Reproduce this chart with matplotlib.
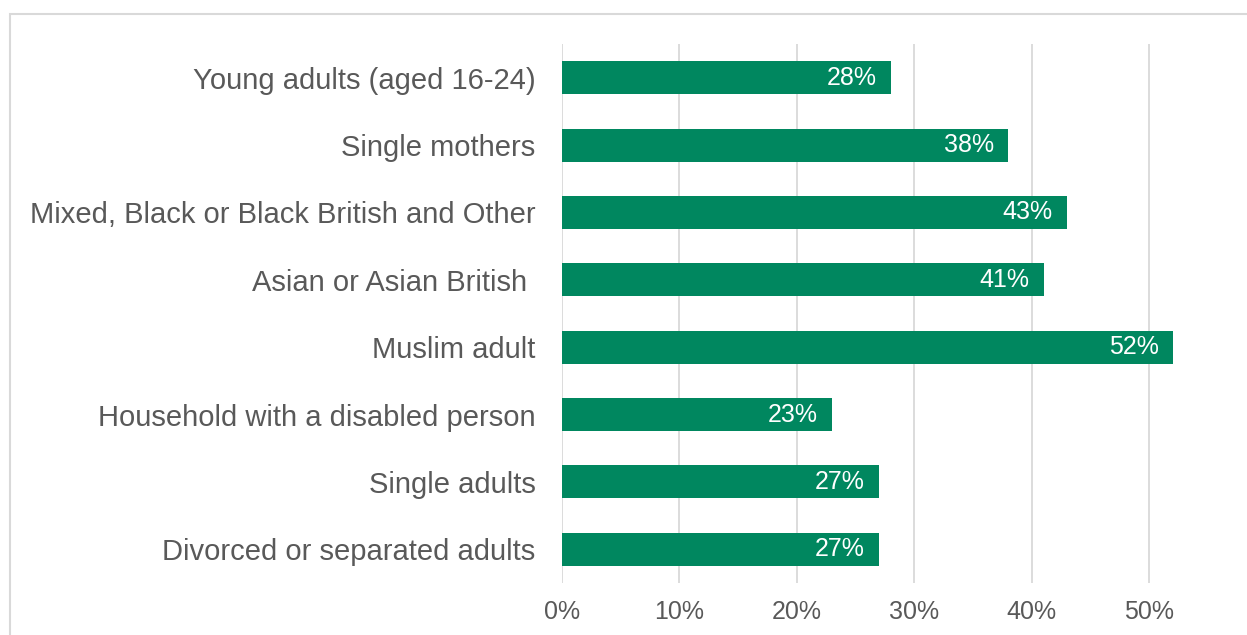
import matplotlib.pyplot as plt
from matplotlib.patches import Rectangle
from matplotlib.ticker import PercentFormatter

plt.rcParams['font.family'] = ['Liberation Sans', 'DejaVu Sans']

# categories top to bottom
categories = ['Young adults (aged 16-24)', 'Single mothers',
              'Mixed, Black or Black British and Other', 'Asian or Asian British ',
              'Muslim adult', 'Household with a disabled person',
              'Single adults', 'Divorced or separated adults']
values = [28, 38, 43, 41, 52, 23, 27, 27]
ticks = [0, 10, 20, 30, 40, 50]

green = '#00875F'
grey = '#595959'

fig = plt.figure(figsize=(12.47, 6.35), dpi=100)
ax = fig.add_axes([562 / 1247, 1 - 583 / 635, (1208 - 562) / 1247, (583 - 44) / 635])

y = list(range(len(categories)))
bars = ax.barh(y, values, height=0.49, color=green, zorder=2)
for b, v in zip(bars, values):
    ax.text(v - 1.2, b.get_y() + b.get_height() / 2, f'{v}%', ha='right', va='center',
            color='white', fontsize=18)

ax.set_ylim(len(categories) - 0.5, -0.5)
ax.set_xlim(0, 55)
ax.set_yticks(y)
ax.set_yticklabels(categories, fontsize=21, color=grey)
ax.set_xticks(ticks)
ax.xaxis.set_major_formatter(PercentFormatter(decimals=0))
ax.tick_params(axis='x', labelsize=18, colors=grey, length=0, pad=12)
ax.tick_params(axis='y', length=0, pad=19)
ax.grid(axis='x', color='#D9D9D9', linewidth=1.3, zorder=0)
for s in ax.spines.values():
    s.set_visible(False)

# outer chart frame (cut off at right and bottom)
fig.patches.append(Rectangle((10 / 1247, -0.1), 1.2, 1 - 14 / 635 + 0.1,
                             transform=fig.transFigure, fill=False,
                             edgecolor='#D9D9D9', linewidth=1.5))

fig.savefig('out.png', dpi=100)
